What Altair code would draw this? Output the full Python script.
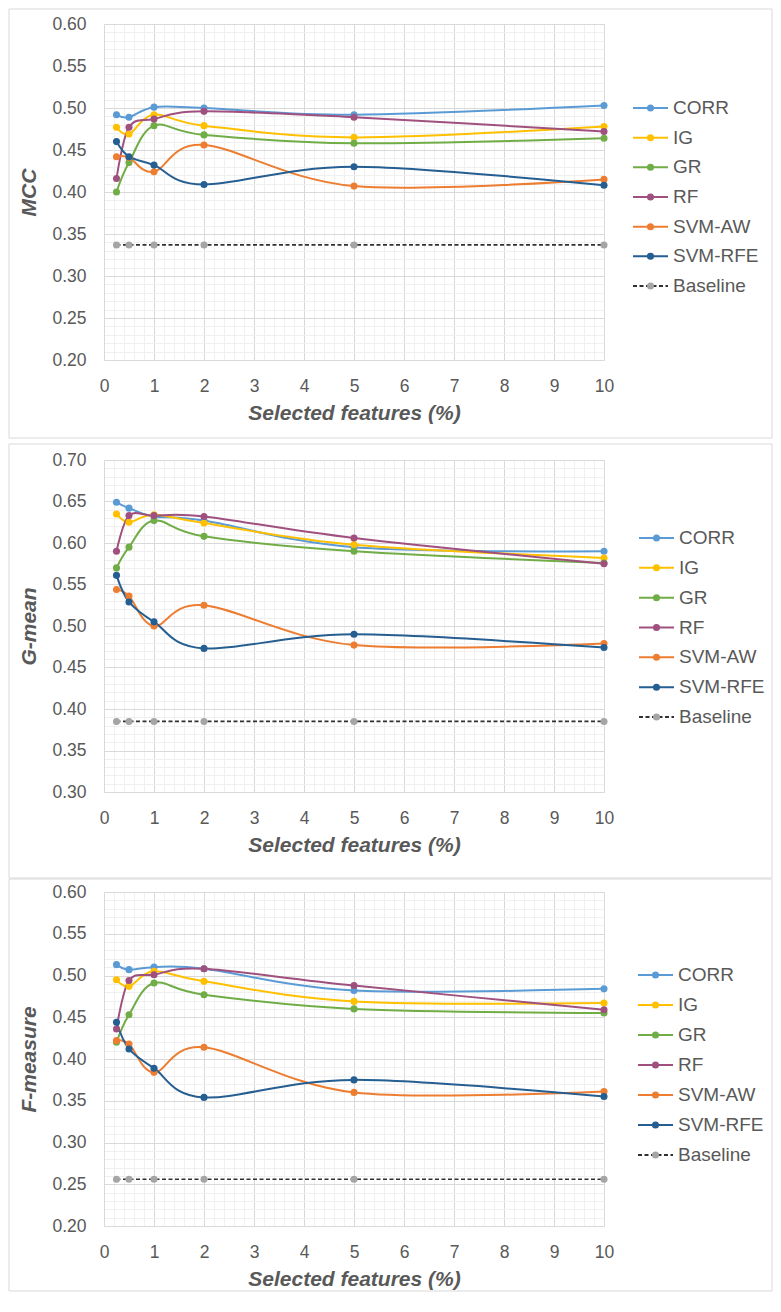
import altair as alt
import pandas as pd

FONT = "Liberation Sans"
TXT = "#595959"

x_vals = [0.25, 0.5, 1, 2, 5, 10]
series = ["CORR", "IG", "GR", "RF", "SVM-AW", "SVM-RFE", "Baseline"]
line_colors = ["#5B9BD5", "#FFC000", "#70AD47", "#A0507E", "#ED7D31", "#255E91", "#303030"]
point_colors = ["#5B9BD5", "#FFC000", "#70AD47", "#A0507E", "#ED7D31", "#255E91", "#A5A5A5"]

mcc = {
    "CORR": [0.492, 0.489, 0.501, 0.500, 0.492, 0.503],
    "IG": [0.477, 0.469, 0.492, 0.479, 0.465, 0.478],
    "GR": [0.400, 0.435, 0.479, 0.468, 0.458, 0.464],
    "RF": [0.416, 0.477, 0.487, 0.496, 0.489, 0.472],
    "SVM-AW": [0.442, 0.441, 0.424, 0.456, 0.407, 0.415],
    "SVM-RFE": [0.460, 0.442, 0.432, 0.409, 0.430, 0.408],
    "Baseline": [0.337, 0.337, 0.337, 0.337, 0.337, 0.337],
}
gmean = {
    "CORR": [0.649, 0.642, 0.632, 0.627, 0.595, 0.590],
    "IG": [0.635, 0.625, 0.634, 0.624, 0.598, 0.582],
    "GR": [0.570, 0.595, 0.627, 0.608, 0.590, 0.576],
    "RF": [0.590, 0.633, 0.633, 0.632, 0.606, 0.575],
    "SVM-AW": [0.544, 0.536, 0.500, 0.525, 0.477, 0.479],
    "SVM-RFE": [0.561, 0.529, 0.505, 0.473, 0.490, 0.474],
    "Baseline": [0.385, 0.385, 0.385, 0.385, 0.385, 0.385],
}
fmeas = {
    "CORR": [0.513, 0.507, 0.510, 0.508, 0.482, 0.484],
    "IG": [0.495, 0.487, 0.505, 0.493, 0.469, 0.467],
    "GR": [0.420, 0.453, 0.491, 0.477, 0.460, 0.455],
    "RF": [0.436, 0.494, 0.501, 0.508, 0.488, 0.459],
    "SVM-AW": [0.422, 0.418, 0.384, 0.414, 0.360, 0.361],
    "SVM-RFE": [0.444, 0.412, 0.389, 0.354, 0.375, 0.355],
    "Baseline": [0.256, 0.256, 0.256, 0.256, 0.256, 0.256],
}

x_ticks = [i / 5 for i in range(51)]


def to_df(d):
    rows = []
    for s in series:
        for xv, v in zip(x_vals, d[s]):
            rows.append({"series": s, "x": xv, "value": v})
    return pd.DataFrame(rows)


def panel(d, title, ydom, h, leg_rng, leg_x0, fr_top, fr_bot):
    df = to_df(d)
    lo, hi = ydom
    y_ticks = [round(lo + i / 100, 2) for i in range(int(round((hi - lo) * 100)) + 1)]
    xaxis = alt.Axis(
        values=x_ticks,
        tickCount=len(x_ticks),
        title="Selected features (%)",
        labelExpr="datum.value % 1 === 0 ? format(datum.value, 'd') : ''",
        labelOverlap=False,
        labelFlush=False,
        gridColor=alt.condition("datum.value % 1 === 0", alt.value("#d9d9d9"), alt.value("#f0f0f0")),
        labelPadding=17,
        titlePadding=8,
    )
    yaxis = alt.Axis(
        values=y_ticks,
        tickCount=len(y_ticks),
        title=title,
        format=".2f",
        labelExpr="round(datum.value * 100) % 5 === 0 ? datum.label : ''",
        labelOverlap=False,
        labelFlush=False,
        gridColor=alt.condition("round(datum.value * 100) % 5 === 0", alt.value("#d9d9d9"), alt.value("#f0f0f0")),
        labelPadding=18,
        titlePadding=12,
    )
    X = alt.X("x:Q", scale=alt.Scale(domain=[0, 10], nice=False), axis=xaxis)
    Y = alt.Y("value:Q", scale=alt.Scale(domain=list(ydom), nice=False, zero=False), axis=yaxis)
    col = alt.Color("series:N", scale=alt.Scale(domain=series, range=line_colors), legend=None)
    fil = alt.Fill("series:N", scale=alt.Scale(domain=series, range=point_colors), legend=None)

    base = alt.Chart(df)
    frame = alt.Chart(pd.DataFrame({"a": [0]})).mark_rect(
        fillOpacity=0, stroke="#d9d9d9", strokeWidth=1
    ).encode(x=alt.value(-95), x2=alt.value(668), y=alt.value(fr_top), y2=alt.value(fr_bot))
    lines = base.transform_filter("datum.series !== 'Baseline'").mark_line(
        interpolate="cardinal", strokeWidth=2
    ).encode(x=X, y=Y, color=col)
    bline = base.transform_filter("datum.series === 'Baseline'").mark_line(
        strokeDash=[4, 2.5], strokeWidth=1.7, color="#303030"
    ).encode(x=X, y=Y)
    pts = base.mark_circle(size=50, opacity=1).encode(x=X, y=Y, fill=fil)
    main = alt.layer(frame, lines, bline, pts)

    ldf = pd.DataFrame({"series": series})
    LY = alt.Y("series:N", scale=alt.Scale(type="point", domain=series, range=list(leg_rng), padding=0), axis=None)
    lbase = alt.Chart(ldf)
    lrule = lbase.mark_rule(strokeWidth=2).encode(
        x=alt.value(leg_x0), x2=alt.value(leg_x0 + 35), y=LY, color=col,
        strokeDash=alt.condition("datum.series === 'Baseline'", alt.value([4, 2.5]), alt.value([1, 0])),
    )
    lpts = lbase.mark_circle(size=50, opacity=1).encode(x=alt.value(leg_x0 + 17.5), y=LY, fill=fil)
    ltxt = lbase.mark_text(align="left", baseline="middle", fontSize=19, font=FONT, color=TXT).encode(
        x=alt.value(leg_x0 + 40), y=LY, text="series:N"
    )
    legend = alt.layer(lrule, lpts, ltxt)
    return alt.layer(main, legend).resolve_scale(y="independent").properties(width=500, height=h)


p1 = panel(mcc, "MCC", (0.2, 0.6), 336, (84, 262), 529, -15, 414)
p2 = panel(gmean, "G-mean", (0.3, 0.7), 332, (78, 257), 535, -16, 418)
p3 = panel(fmeas, "F-measure", (0.2, 0.6), 334, (83, 263), 534, -13, 399)

chart = alt.vconcat(p1, p2, p3, spacing=100, bounds="flush").properties(padding=0).configure_view(
    stroke=None
).configure_axis(
    labelFont=FONT,
    labelFontSize=17.5,
    labelColor=TXT,
    titleFont=FONT,
    titleFontSize=21,
    titleFontWeight="bold",
    titleFontStyle="italic",
    titleColor=TXT,
    ticks=False,
    domainColor="#d9d9d9",
)

chart.save("out.html", embed_options={"renderer": "svg", "actions": False})
